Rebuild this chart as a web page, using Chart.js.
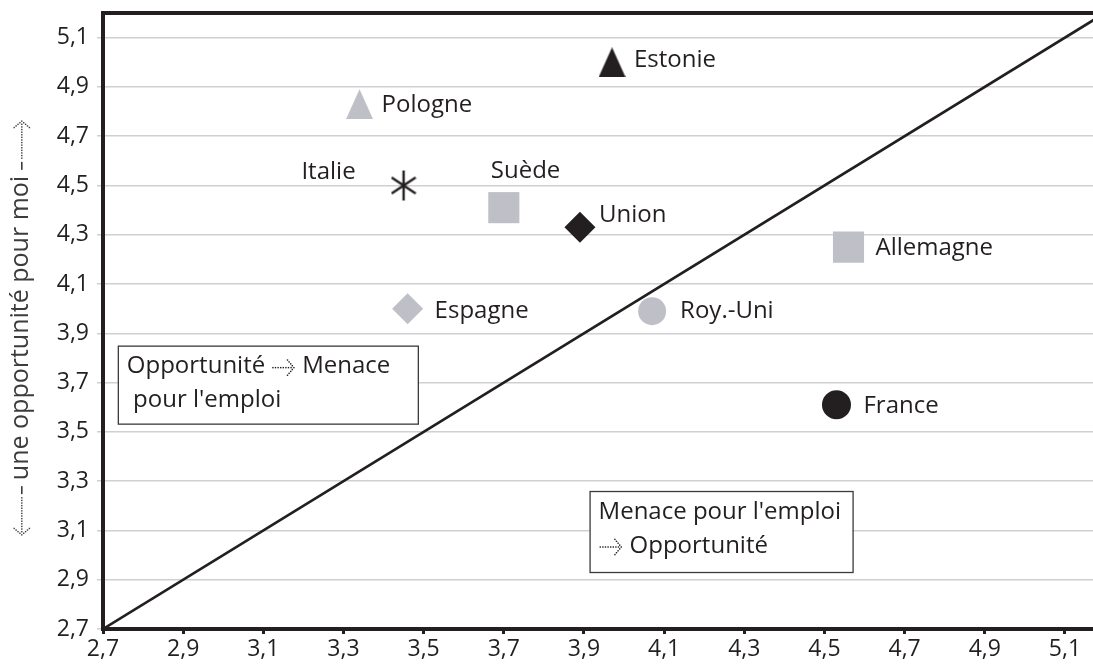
<!DOCTYPE html>
<html>
<head>
<meta charset="utf-8">
<script src="https://cdn.jsdelivr.net/npm/chart.js@4.4.1/dist/chart.umd.min.js"></script>
<style>
  html, body { margin: 0; padding: 0; background: #fff; overflow: hidden; }
  #wrap { width: 1093px; height: 672px; }
</style>
</head>
<body>
<div id="wrap"><canvas id="chart"></canvas></div>
<script>
// data
const countries = ['Estonie', 'Pologne', 'Italie', 'Suède', 'Union', 'Allemagne', 'Espagne', 'Roy.-Uni', 'France'];
const xValues = [3.97, 3.34, 3.45, 3.70, 3.89, 4.56, 3.46, 4.07, 4.53];
const yValues = [5.00, 4.83, 4.50, 4.41, 4.33, 4.25, 4.00, 3.99, 3.61];
const tickValues = [2.7, 2.9, 3.1, 3.3, 3.5, 3.7, 3.9, 4.1, 4.3, 4.5, 4.7, 4.9, 5.1];
const diagonal = [2.7, 5.2];
const yTitle = 'une opportunité pour moi';

const BLACK = '#231f20';
const GREY = '#bfc0c7';
const FONT = '"Open Sans"';

// marker pictures
function triangleImg(color) {
    const c = document.createElement('canvas');
    c.width = 27; c.height = 30;
    const g = c.getContext('2d');
    g.fillStyle = color;
    g.beginPath();
    g.moveTo(13.5, 0); g.lineTo(27, 30); g.lineTo(0, 30);
    g.closePath(); g.fill();
    return c;
}
function asteriskImg() {
    const c = document.createElement('canvas');
    c.width = 26; c.height = 32;
    const g = c.getContext('2d');
    g.strokeStyle = BLACK;
    g.lineWidth = 2.4;
    g.beginPath();
    g.moveTo(13, 1); g.lineTo(13, 31);
    g.moveTo(1, 8); g.lineTo(25, 24);
    g.moveTo(1, 24); g.lineTo(25, 8);
    g.stroke();
    return c;
}

// per point look, same order as countries
const markerStyle = [triangleImg(BLACK), triangleImg(GREY), asteriskImg(), 'rect', 'rectRot', 'rect', 'rectRot', 'circle', 'circle'];
const markerRadius = [15, 15, 15, 22, 15.5, 22, 15.5, 14, 14.5];
const markerColor = [BLACK, GREY, BLACK, GREY, BLACK, GREY, GREY, GREY, BLACK];
// label placement: [align, dx, dy]
const labelPlace = [
    ['left', 22, -2], ['left', 22, 1], ['right', -48, -13], ['left', -13, -36], ['left', 19, -12],
    ['left', 27, 1], ['left', 27, 2], ['left', 28, 0], ['left', 27, 1]
];

const fmt = v => Number(v).toFixed(1).replace('.', ',');

// dotted arrow pointing right, starting at x, centred on y
function dottedArrow(ctx, x, y, len, color) {
    ctx.save();
    ctx.fillStyle = color;
    for (let d = 0; d < len - 2; d += 2.6) ctx.fillRect(x + d, y - 0.7, 1.4, 1.4);
    for (let k = 1; k <= 4; k++) {
        ctx.fillRect(x + len - 1.6 * k - 1, y - 1.9 * k - 0.7, 1.4, 1.4);
        ctx.fillRect(x + len - 1.6 * k - 1, y + 1.9 * k - 0.7, 1.4, 1.4);
    }
    ctx.fillRect(x + len - 1, y - 0.7, 1.4, 1.4);
    ctx.restore();
}

const pointLabels = {
    id: 'pointLabels',
    afterDatasetsDraw(chart) {
        const ctx = chart.ctx;
        const meta = chart.getDatasetMeta(1);
        ctx.save();
        ctx.font = '24px ' + FONT;
        ctx.fillStyle = BLACK;
        ctx.textBaseline = 'middle';
        meta.data.forEach((pt, i) => {
            const [align, dx, dy] = labelPlace[i];
            ctx.textAlign = align;
            ctx.fillText(countries[i], pt.x + dx, pt.y + dy);
        });
        ctx.restore();
    }
};

const frame = {
    id: 'frame',
    afterDraw(chart) {
        const { ctx, chartArea: a, scales } = chart;
        ctx.save();
        // top border
        ctx.strokeStyle = BLACK;
        ctx.lineWidth = 4;
        ctx.beginPath();
        ctx.moveTo(a.left - 2, a.top);
        ctx.lineTo(a.right, a.top);
        ctx.stroke();

        // y title, rotated, with dotted arrows
        ctx.save();
        ctx.translate(21, (a.top + a.bottom) / 2 + 7);
        ctx.rotate(-Math.PI / 2);
        ctx.font = '25px ' + FONT;
        ctx.fillStyle = '#3c3c3c';
        ctx.textAlign = 'center';
        ctx.textBaseline = 'middle';
        ctx.fillText(yTitle, 0, 0);
        const hw = ctx.measureText(yTitle).width / 2;
        ctx.fillRect(hw + 6, 0, 8, 1.6);
        ctx.fillRect(-hw - 14, 0, 8, 1.6);
        dottedArrow(ctx, hw + 17, 0.8, 38, '#3c3c3c');
        ctx.scale(-1, 1);
        dottedArrow(ctx, hw + 17, 0.8, 38, '#3c3c3c');
        ctx.restore();

        // note boxes
        const boxes = [
            { x: scales.x.getPixelForValue(2.737), y: scales.y.getPixelForValue(3.85), w: 300, h: 78,
              lines: [['Opportunité', 'Menace'], [' pour l\'emploi']] },
            { x: scales.x.getPixelForValue(3.914), y: scales.y.getPixelForValue(3.26), w: 263, h: 81,
              lines: [['Menace pour l\'emploi'], ['', 'Opportunité']] }
        ];
        ctx.font = '24px ' + FONT;
        ctx.textBaseline = 'middle';
        ctx.textAlign = 'left';
        boxes.forEach(b => {
            ctx.fillStyle = '#fff';
            ctx.fillRect(b.x, b.y, b.w, b.h);
            ctx.strokeStyle = '#3a3a3a';
            ctx.lineWidth = 1.3;
            ctx.strokeRect(b.x + 0.5, b.y + 0.5, b.w, b.h);
            ctx.fillStyle = BLACK;
            b.lines.forEach((parts, li) => {
                const y = b.y + 21 + li * 34;
                let x = b.x + 9;
                ctx.fillText(parts[0], x, y);
                if (parts.length > 1) {
                    x += ctx.measureText(parts[0]).width + (parts[0] ? 7 : 1);
                    dottedArrow(ctx, x, y + 1, 22, BLACK);
                    ctx.fillText(parts[1], x + 30, y);
                }
            });
        });
        ctx.restore();
    }
};

const ctx = document.getElementById('chart').getContext('2d');
const chart = new Chart(ctx, {
    type: 'scatter',
    data: {
        datasets: [
            {
                type: 'line',
                data: diagonal.map(v => ({ x: v, y: v })),
                borderColor: BLACK,
                borderWidth: 2.6,
                pointRadius: 0,
                order: 2
            },
            {
                data: xValues.map((x, i) => ({ x: x, y: yValues[i] })),
                pointStyle: markerStyle,
                pointRadius: markerRadius,
                pointBackgroundColor: markerColor,
                pointBorderWidth: 0,
                order: 1
            }
        ]
    },
    options: {
        responsive: true,
        maintainAspectRatio: false,
        animation: false,
        events: [],
        layout: { autoPadding: false, padding: { top: 13, right: 0, left: 0, bottom: 0 } },
        plugins: {
            legend: { display: false },
            tooltip: { enabled: false }
        },
        scales: {
            x: {
                type: 'linear',
                min: 2.7,
                max: 5.17,
                afterBuildTicks: s => { s.ticks = tickValues.map(v => ({ value: v })); },
                afterFit: s => { s.height = 43; s.paddingLeft = 0; s.paddingRight = 0; },
                border: { color: BLACK, width: 4 },
                grid: { drawOnChartArea: false, drawTicks: true, tickLength: 5, tickColor: BLACK, tickWidth: 3 },
                ticks: {
                    callback: fmt,
                    font: { family: FONT, size: 23 },
                    color: BLACK,
                    padding: 2,
                    maxRotation: 0,
                    autoSkip: false
                }
            },
            y: {
                type: 'linear',
                min: 2.7,
                max: 5.2,
                afterBuildTicks: s => { s.ticks = tickValues.map(v => ({ value: v })); },
                afterFit: s => { s.width = 103; s.paddingTop = 0; s.paddingBottom = 0; },
                border: { color: BLACK, width: 4 },
                grid: { color: '#cfd0d6', lineWidth: 1.5, tickLength: 6 },
                ticks: {
                    callback: fmt,
                    font: { family: FONT, size: 23 },
                    color: BLACK,
                    padding: 8,
                    autoSkip: false
                }
            }
        }
    },
    plugins: [pointLabels, frame]
});
</script>
</body>
</html>
